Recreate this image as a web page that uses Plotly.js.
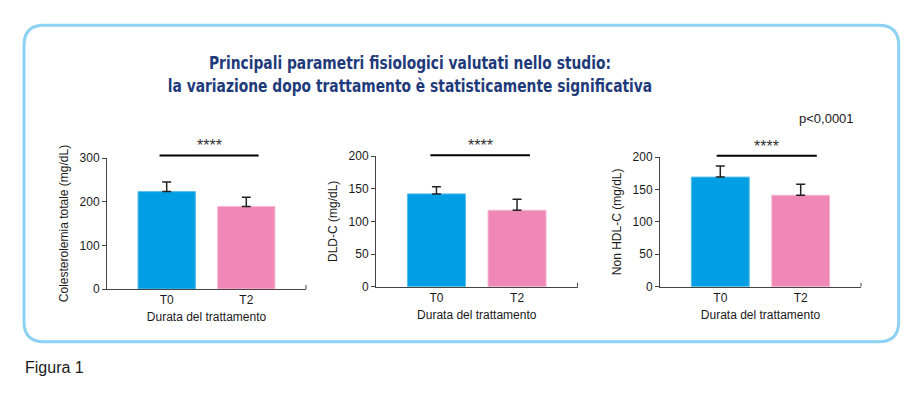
<!DOCTYPE html>
<html>
<head>
<meta charset="utf-8">
<script src="https://cdn.plot.ly/plotly-3.0.1.min.js"></script>
<style>
  html, body { margin: 0; padding: 0; background: #ffffff; }
  #chart { width: 923px; height: 395px; }
</style>
</head>
<body>
<div id="chart"></div>
<script>
// ---- data ----
const categories = ['T0', 'T2'];
const yAxisTitles = ['Colesterolemia totale (mg/dL)', 'DLD-C (mg/dL)', 'Non HDL-C (mg/dL)'];
const xAxisTitle = 'Durata del trattamento';
const t0Values = [223, 142, 169];
const t2Values = [189, 117, 141];
const t0Errors = [22, 11, 17];
const t2Errors = [21, 17, 17];
const yMax = [300, 200, 200];
const yStep = [100, 50, 50];
const sigLevel = [306, 201, 202];
const sigStart = [-0.09, -0.075, -0.045];
const sigEnd = [1.155, 1.16, 1.2];
const sigLabel = '****';
const pLabel = 'p<0,0001';
const titleText = 'Principali parametri fisiologici valutati nello studio:<br>la variazione dopo trattamento è statisticamente significativa';
const figureLabel = 'Figura 1';

// ---- layout helpers ----
const W = 923, H = 395;
const px = x => x / W;
const py = y => 1 - y / H;
const FONT = 'Liberation Sans, Arial, sans-serif';
const TITLE_FONT = 'DejaVu Sans Condensed, Liberation Sans, sans-serif';
const BLUE = '#009fe3', PINK = '#ef88b7';
const X_RANGE = [-0.75, 1.75];
const xFrac = v => (v - X_RANGE[0]) / (X_RANGE[1] - X_RANGE[0]);

const xDomains = [[107, 306], [376, 577.5], [660, 861]];
const yDomains = [[289, 158], [286.7, 156], [286.7, 157]];

const data = [];
const layout = {
  width: W, height: H,
  margin: {l: 0, r: 0, t: 0, b: 0},
  paper_bgcolor: '#ffffff', plot_bgcolor: 'rgba(0,0,0,0)',
  showlegend: false,
  font: {family: FONT, size: 12, color: '#1a1a1a'},
  title: {
    text: titleText,
    font: {family: TITLE_FONT, size: 18, color: '#1e3a7a', weight: 'bold'},
    x: px(410), xanchor: 'center', xref: 'paper',
    y: py(69), yanchor: 'top', yref: 'paper'
  },
  annotations: [],
  shapes: []
};

for (let i = 0; i < 3; i++) {
  const xa = i === 0 ? 'x' : 'x' + (i + 1);
  const ya = i === 0 ? 'y' : 'y' + (i + 1);
  const xk = i === 0 ? 'xaxis' : 'xaxis' + (i + 1);
  const yk = i === 0 ? 'yaxis' : 'yaxis' + (i + 1);

  data.push({
    type: 'bar', x: [0, 1], y: [t0Values[i], t2Values[i]],
    xaxis: xa, yaxis: ya, width: 0.72,
    marker: {color: [BLUE, PINK], line: {color: ['#55bdec', '#f6bad6'], width: 1}},
    error_y: {type: 'data', array: [t0Errors[i], t2Errors[i]], arrayminus: [0, 0], symmetric: false,
              color: '#222222', thickness: 1.5, width: 4.5},
    hoverinfo: 'skip'
  });

  layout[xk] = {
    domain: [px(xDomains[i][0]), px(xDomains[i][1])],
    anchor: ya, range: X_RANGE, automargin: false,
    tickvals: [0, 1], ticktext: categories, ticks: '',
    showline: true, linecolor: '#444444', linewidth: 1,
    showgrid: false, zeroline: false,
    tickfont: {size: 12, color: '#1a1a1a'},
    title: {text: xAxisTitle, font: {size: 12, color: '#1a1a1a'}, standoff: 6},
    fixedrange: true
  };
  layout[yk] = {
    domain: [py(yDomains[i][0]), py(yDomains[i][1])],
    anchor: xa, range: [0, yMax[i]], automargin: false,
    dtick: yStep[i], tick0: 0, ticks: 'outside', ticklen: 4, tickcolor: '#444444',
    showline: true, linecolor: '#444444', linewidth: 1,
    showgrid: false, zeroline: false,
    tickfont: {size: 12, color: '#1a1a1a'},
    title: {text: yAxisTitles[i], font: {size: 12, color: '#1a1a1a'}, standoff: 8},
    fixedrange: true
  };

  // significance bracket (line above the bars) and its label
  layout.shapes.push({
    type: 'line', xref: xa + ' domain', yref: ya + ' domain',
    x0: xFrac(sigStart[i]), x1: xFrac(sigEnd[i]),
    y0: sigLevel[i] / yMax[i], y1: sigLevel[i] / yMax[i],
    line: {color: '#000000', width: 2}
  });
  layout.annotations.push({
    xref: xa + ' domain', yref: ya + ' domain',
    x: xFrac((sigStart[i] + sigEnd[i]) / 2), y: sigLevel[i] / yMax[i],
    text: sigLabel, showarrow: false, xanchor: 'center', yanchor: 'bottom', yshift: -1,
    font: {size: 16, color: '#333333'}
  });
  // small end tick on the x axis line
  layout.shapes.push({
    type: 'line', xref: xa + ' domain', yref: ya + ' domain',
    x0: 1, x1: 1, y0: 0, y1: 0.03, line: {color: '#444444', width: 1}
  });
}

layout.annotations.push({
  xref: 'paper', yref: 'paper', x: px(826), y: py(118), text: pLabel, showarrow: false,
  xanchor: 'center', yanchor: 'middle', font: {size: 13, color: '#1a1a1a'}
});
layout.annotations.push({
  xref: 'paper', yref: 'paper', x: px(23), y: py(367), text: figureLabel, showarrow: false,
  xanchor: 'left', yanchor: 'middle', font: {size: 16, color: '#1a1a1a'}
});

// rounded frame
(function () {
  const L = 24, R = 898.7, T = 25.3, B = 341.7, r = 20;
  const p = (x, y) => px(x) + ',' + py(y);
  const path = 'M' + p(L + r, T) + ' L' + p(R - r, T) + ' Q' + p(R, T) + ' ' + p(R, T + r) +
    ' L' + p(R, B - r) + ' Q' + p(R, B) + ' ' + p(R - r, B) +
    ' L' + p(L + r, B) + ' Q' + p(L, B) + ' ' + p(L, B - r) +
    ' L' + p(L, T + r) + ' Q' + p(L, T) + ' ' + p(L + r, T) + ' Z';
  layout.shapes.push({type: 'path', xref: 'paper', yref: 'paper', path: path,
    line: {color: '#8dd1f3', width: 3}, fillcolor: 'rgba(0,0,0,0)', layer: 'below'});
})();

Plotly.newPlot('chart', data, layout, {staticPlot: true, displayModeBar: false}).then(function (gd) {
  // the reference title uses a condensed face: narrow the drawn title around its centre
  const t = gd.querySelector('.gtitle');
  if (t) {
    const cx = 410;
    t.setAttribute('transform', 'translate(' + cx + ',0) scale(0.855,1) translate(' + (-cx) + ',0)');
  }
});
</script>
</body>
</html>
